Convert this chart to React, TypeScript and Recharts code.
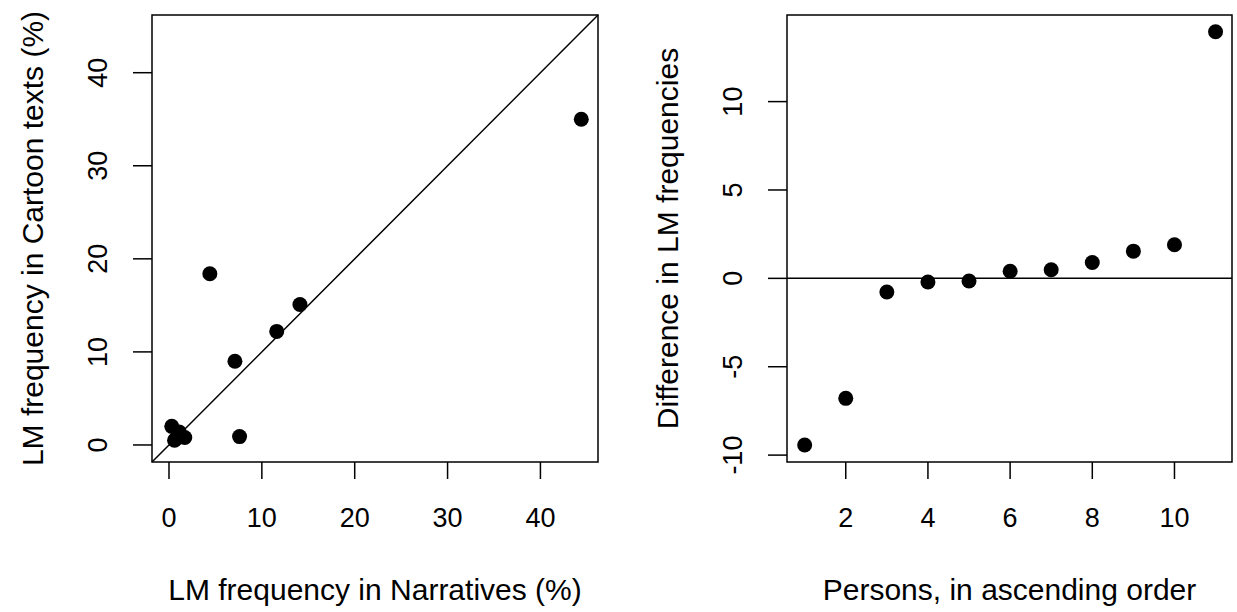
import {
  ScatterChart,
  Scatter,
  XAxis,
  YAxis,
  ReferenceLine,
  ReferenceArea,
} from 'recharts'

// left panel: LM frequency per person (%)
const narratives = [44.4, 4.4, 14.1, 11.6, 7.1, 7.6, 0.3, 0.6, 1.1, 1.7, 0.8]
const cartoons = [35.0, 18.4, 15.1, 12.2, 9.0, 0.9, 2.0, 0.5, 1.4, 0.8, 0.7]

// right panel: cartoon minus narrative, sorted
const persons = [1, 2, 3, 4, 5, 6, 7, 8, 9, 10, 11]
const differences = [-9.43, -6.79, -0.77, -0.21, -0.15, 0.4, 0.49, 0.9, 1.54, 1.9, 13.95]

const freqTicks = [0, 10, 20, 30, 40]
const personTicks = [2, 4, 6, 8, 10]
const diffTicks = [-10, -5, 0, 5, 10]

const freqDomain: [number, number] = [-1.83, 46.2]
const personDomain: [number, number] = [0.57, 11.4]
const diffDomain: [number, number] = [-10.39, 14.9]

const scatterData = narratives.map((n, i) => ({ x: n, y: cartoons[i] }))
const diffData = persons.map((p, i) => ({ x: p, y: differences[i] }))

const INK = '#000'
const TICK_FONT = 27
const LABEL_FONT = 30

const Dot = (props: any) => <circle cx={props.cx} cy={props.cy} r={7.5} fill={INK} />

const RotatedTick = (props: any) => {
  const { x, y, payload } = props
  const cx = x - 35
  return (
    <text
      x={cx}
      y={y}
      transform={`rotate(-90, ${cx}, ${y})`}
      textAnchor="middle"
      dominantBaseline="central"
      fontSize={TICK_FONT}
      fill={INK}
    >
      {payload.value}
    </text>
  )
}

const xTick = { fontSize: TICK_FONT, fill: INK }
const tickLine = { stroke: INK, strokeWidth: 1.5 }

export default function App() {
  return (
    <div
      style={{
        position: 'absolute',
        left: 0,
        top: 0,
        width: 1237,
        height: 612,
        background: '#fff',
        fontFamily: '"Liberation Sans", Arial, sans-serif',
      }}
    >
      <div style={{ position: 'absolute', left: 0, top: 0 }}>
        <ScatterChart width={620} height={612} margin={{ top: 15, right: 22, bottom: 0, left: 0 }}>
          <XAxis
            type="number"
            dataKey="x"
            domain={freqDomain}
            allowDataOverflow
            ticks={freqTicks}
            interval={0}
            height={150}
            axisLine={false}
            tickLine={tickLine}
            tickSize={17}
            tickMargin={29}
            tick={xTick}
            label={{
              value: 'LM frequency in Narratives (%)',
              position: 'insideBottom',
              offset: 12,
              fontSize: LABEL_FONT,
              fill: INK,
            }}
          />
          <YAxis
            type="number"
            dataKey="y"
            domain={freqDomain}
            allowDataOverflow
            ticks={freqTicks}
            interval={0}
            width={152}
            axisLine={false}
            tickLine={tickLine}
            tickSize={19}
            tickMargin={0}
            tick={<RotatedTick />}
            label={{
              value: 'LM frequency in Cartoon texts (%)',
              angle: -90,
              position: 'insideLeft',
              offset: 32,
              fontSize: LABEL_FONT,
              fill: INK,
              style: { textAnchor: 'middle' },
            }}
          />
          <ReferenceArea
            x1={freqDomain[0]}
            x2={freqDomain[1]}
            y1={freqDomain[0]}
            y2={freqDomain[1]}
            fill="none"
            fillOpacity={0}
            stroke={INK}
            strokeWidth={1.5}
          />
          <ReferenceLine
            segment={[
              { x: freqDomain[0], y: freqDomain[0] },
              { x: freqDomain[1], y: freqDomain[1] },
            ]}
            stroke={INK}
            strokeWidth={1.5}
          />
          <Scatter data={scatterData} shape={<Dot />} isAnimationActive={false} />
        </ScatterChart>
      </div>

      <div style={{ position: 'absolute', left: 620, top: 0 }}>
        <ScatterChart width={617} height={612} margin={{ top: 15, right: 5, bottom: 0, left: 0 }}>
          <XAxis
            type="number"
            dataKey="x"
            domain={personDomain}
            allowDataOverflow
            ticks={personTicks}
            interval={0}
            height={150}
            axisLine={false}
            tickLine={tickLine}
            tickSize={17}
            tickMargin={29}
            tick={xTick}
            label={{
              value: 'Persons, in ascending order',
              position: 'insideBottom',
              offset: 12,
              fontSize: LABEL_FONT,
              fill: INK,
            }}
          />
          <YAxis
            type="number"
            dataKey="y"
            domain={diffDomain}
            allowDataOverflow
            ticks={diffTicks}
            interval={0}
            width={167}
            axisLine={false}
            tickLine={tickLine}
            tickSize={19}
            tickMargin={0}
            tick={<RotatedTick />}
            label={{
              value: 'Difference in LM frequencies',
              angle: -90,
              position: 'insideLeft',
              offset: 47,
              fontSize: LABEL_FONT,
              fill: INK,
              style: { textAnchor: 'middle' },
            }}
          />
          <ReferenceArea
            x1={personDomain[0]}
            x2={personDomain[1]}
            y1={diffDomain[0]}
            y2={diffDomain[1]}
            fill="none"
            fillOpacity={0}
            stroke={INK}
            strokeWidth={1.5}
          />
          <ReferenceLine y={0} stroke={INK} strokeWidth={1.5} />
          <Scatter data={diffData} shape={<Dot />} isAnimationActive={false} />
        </ScatterChart>
      </div>
    </div>
  )
}
